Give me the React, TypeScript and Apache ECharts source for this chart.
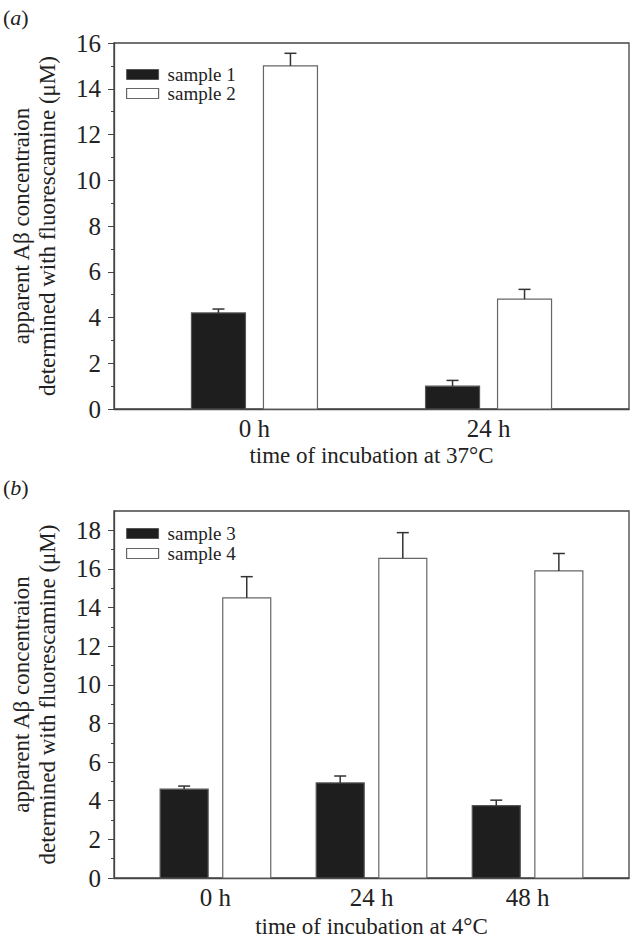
import React, { useEffect, useRef } from "react";
import * as echarts from "echarts";

// ---- data ----
const categoriesA = ["0 h", "24 h"];
const sample1 = [4.2, 1.0];
const sample1Err = [0.17, 0.25];
const sample2 = [15.0, 4.8];
const sample2Err = [0.55, 0.43];

const categoriesB = ["0 h", "24 h", "48 h"];
const sample3 = [4.6, 4.92, 3.75];
const sample3Err = [0.16, 0.36, 0.28];
const sample4 = [14.5, 16.55, 15.9];
const sample4Err = [1.1, 1.33, 0.9];

const yTicksA = [0, 2, 4, 6, 8, 10, 12, 14, 16];
const yTicksB = [0, 2, 4, 6, 8, 10, 12, 14, 16, 18];
const yMinorB = [1, 3, 5, 7, 9, 11, 13, 15, 17];

const FONT = "'Liberation Serif', 'Times New Roman', serif";
const INK = "#222";
const LINE = "#444";
const TICK_FS = 25;
const NAME_FS = 23;

function makeRender(offset: number, width: number, fill: string, stroke: string) {
  return (params: any, api: any) => {
    const x = api.value(0);
    const v = api.value(1);
    const e = api.value(2);
    const b = api.coord([x, 0]);
    const t = api.coord([x, v]);
    const et = api.coord([x, v + e]);
    const cx = b[0] + offset;
    return {
      type: "group",
      children: [
        {
          type: "rect",
          shape: { x: cx - width / 2, y: t[1], width, height: b[1] - t[1] },
          style: { fill, stroke, lineWidth: 1.2 },
        },
        {
          type: "line",
          shape: { x1: cx, y1: t[1], x2: cx, y2: et[1] },
          style: { stroke: "#333", lineWidth: 1.5 },
        },
        {
          type: "line",
          shape: { x1: cx - 6, y1: et[1], x2: cx + 6, y2: et[1] },
          style: { stroke: "#333", lineWidth: 1.5 },
        },
      ],
    };
  };
}

const toData = (vals: number[], errs: number[]) => vals.map((v, i) => [i, v, errs[i]]);

const yName = "apparent A\u03b2 concentraion\ndetermined with fluorescamine (\u03bcM)";

function panelTitle(letter: string, top: number) {
  return {
    text: `{p|(}{i|${letter}}{p|)}`,
    left: 3,
    top,
    padding: 0,
    textStyle: {
      fontWeight: "normal",
      rich: {
        p: { fontSize: 22, fontFamily: FONT, fontWeight: "normal", color: INK },
        i: { fontSize: 22, fontFamily: FONT, fontStyle: "italic", fontWeight: "normal", color: INK },
      },
    },
  };
}

function legendFor(names: string[], top: number, gap: number) {
  return {
    orient: "vertical",
    left: 126,
    top,
    padding: 0,
    itemGap: gap,
    itemWidth: 32,
    itemHeight: 10,
    icon: "rect",
    selectedMode: false,
    textStyle: { fontFamily: FONT, fontSize: 19, lineHeight: 18, color: INK, padding: [0, 0, 0, 4] },
    data: [
      { name: names[0], itemStyle: { color: "#1e1e1e", borderColor: "#555", borderWidth: 1 } },
      { name: names[1], itemStyle: { color: "#ffffff", borderColor: "#666", borderWidth: 1.2 } },
    ],
  };
}

export default function App() {
  const ref = useRef<HTMLDivElement>(null);
  useEffect(() => {
    if (!ref.current) return;
    const chart = echarts.init(ref.current, null, { renderer: "svg" });
    const axisLine = { show: true, onZero: false, lineStyle: { color: LINE, width: 1.3 } };
    const yAxisBase = (max: number, ticks: number[]) => ({
      type: "value",
      min: 0,
      max,
      interval: 2,
      axisLine,
      splitLine: { show: false },
      axisLabel: { customValues: ticks, fontSize: TICK_FS, color: INK, margin: 13, fontFamily: FONT },
      name: yName,
      nameLocation: "middle",
      nameGap: 54,
      nameRotate: 90,
      nameTextStyle: { fontSize: NAME_FS, lineHeight: 26, color: INK, fontFamily: FONT },
    });
    const option: any = {
      animation: false,
      backgroundColor: "#fff",
      textStyle: { fontFamily: FONT },
      title: [panelTitle("a", 6), panelTitle("b", 476)],
      grid: [
        { left: 104, top: 43, width: 525, height: 366, show: true, borderColor: LINE, borderWidth: 1.3 },
        { left: 104, top: 511, width: 525, height: 367, show: true, borderColor: LINE, borderWidth: 1.3 },
      ],
      legend: [legendFor(["sample 1", "sample 2"], 65, 0), legendFor(["sample 3", "sample 4"], 524, 1)],
      xAxis: [
        {
          gridIndex: 0,
          type: "value",
          min: -0.6,
          max: 1.6,
          axisLine,
          axisTick: { show: false },
          splitLine: { show: false },
          axisLabel: {
            customValues: [0, 1],
            formatter: (v: number) => categoriesA[Math.round(v)] ?? "",
            fontSize: TICK_FS,
            color: INK,
            margin: 7,
            fontFamily: FONT,
          },
          name: "time of incubation at 37\u00b0C",
          nameLocation: "middle",
          nameGap: 35,
          nameTextStyle: { fontSize: NAME_FS, color: INK, fontFamily: FONT },
        },
        {
          gridIndex: 1,
          type: "value",
          min: -0.65,
          max: 2.65,
          axisLine,
          axisTick: { show: false },
          splitLine: { show: false },
          axisLabel: {
            customValues: [0, 1, 2],
            formatter: (v: number) => categoriesB[Math.round(v)] ?? "",
            fontSize: TICK_FS,
            color: INK,
            margin: 7,
            fontFamily: FONT,
          },
          name: "time of incubation at 4\u00b0C",
          nameLocation: "middle",
          nameGap: 37,
          nameTextStyle: { fontSize: NAME_FS, color: INK, fontFamily: FONT },
        },
      ],
      yAxis: [
        {
          gridIndex: 0,
          ...yAxisBase(16, yTicksA),
          axisTick: { show: true, inside: false, length: 6, lineStyle: { color: LINE, width: 1 } },
          minorTick: { show: true, splitNumber: 2, length: 3, lineStyle: { color: LINE, width: 1 } },
        },
        {
          gridIndex: 1,
          ...yAxisBase(19, yTicksB),
          axisTick: { show: true, inside: false, length: 6, customValues: yTicksB, lineStyle: { color: LINE, width: 1 } },
        },
        {
          gridIndex: 1,
          type: "value",
          position: "left",
          min: 0,
          max: 19,
          interval: 2,
          axisLine: { show: false, onZero: false },
          axisTick: { show: true, inside: false, length: 3, customValues: yMinorB, lineStyle: { color: LINE, width: 1 } },
          splitLine: { show: false },
          axisLabel: { show: false },
        },
      ],
      series: [
        {
          name: "sample 1",
          type: "custom",
          xAxisIndex: 0,
          yAxisIndex: 0,
          itemStyle: { color: "#1e1e1e" },
          renderItem: makeRender(-36, 54, "#1e1e1e", "#555"),
          data: toData(sample1, sample1Err),
          encode: { x: 0, y: 1 },
        },
        {
          name: "sample 2",
          type: "custom",
          xAxisIndex: 0,
          yAxisIndex: 0,
          itemStyle: { color: "#ffffff" },
          renderItem: makeRender(36, 54, "#ffffff", "#666"),
          data: toData(sample2, sample2Err),
          encode: { x: 0, y: 1 },
        },
        {
          name: "sample 3",
          type: "custom",
          xAxisIndex: 1,
          yAxisIndex: 1,
          itemStyle: { color: "#1e1e1e" },
          renderItem: makeRender(-31.3, 48, "#1e1e1e", "#555"),
          data: toData(sample3, sample3Err),
          encode: { x: 0, y: 1 },
        },
        {
          name: "sample 4",
          type: "custom",
          xAxisIndex: 1,
          yAxisIndex: 1,
          itemStyle: { color: "#ffffff" },
          renderItem: makeRender(31.3, 48, "#ffffff", "#666"),
          data: toData(sample4, sample4Err),
          encode: { x: 0, y: 1 },
        },
      ],
    };
    chart.setOption(option);
    return () => chart.dispose();
  }, []);
  return (
    <div
      ref={ref}
      style={{ position: "fixed", left: 0, top: 0, width: 631, height: 941, background: "#fff" }}
    />
  );
}
